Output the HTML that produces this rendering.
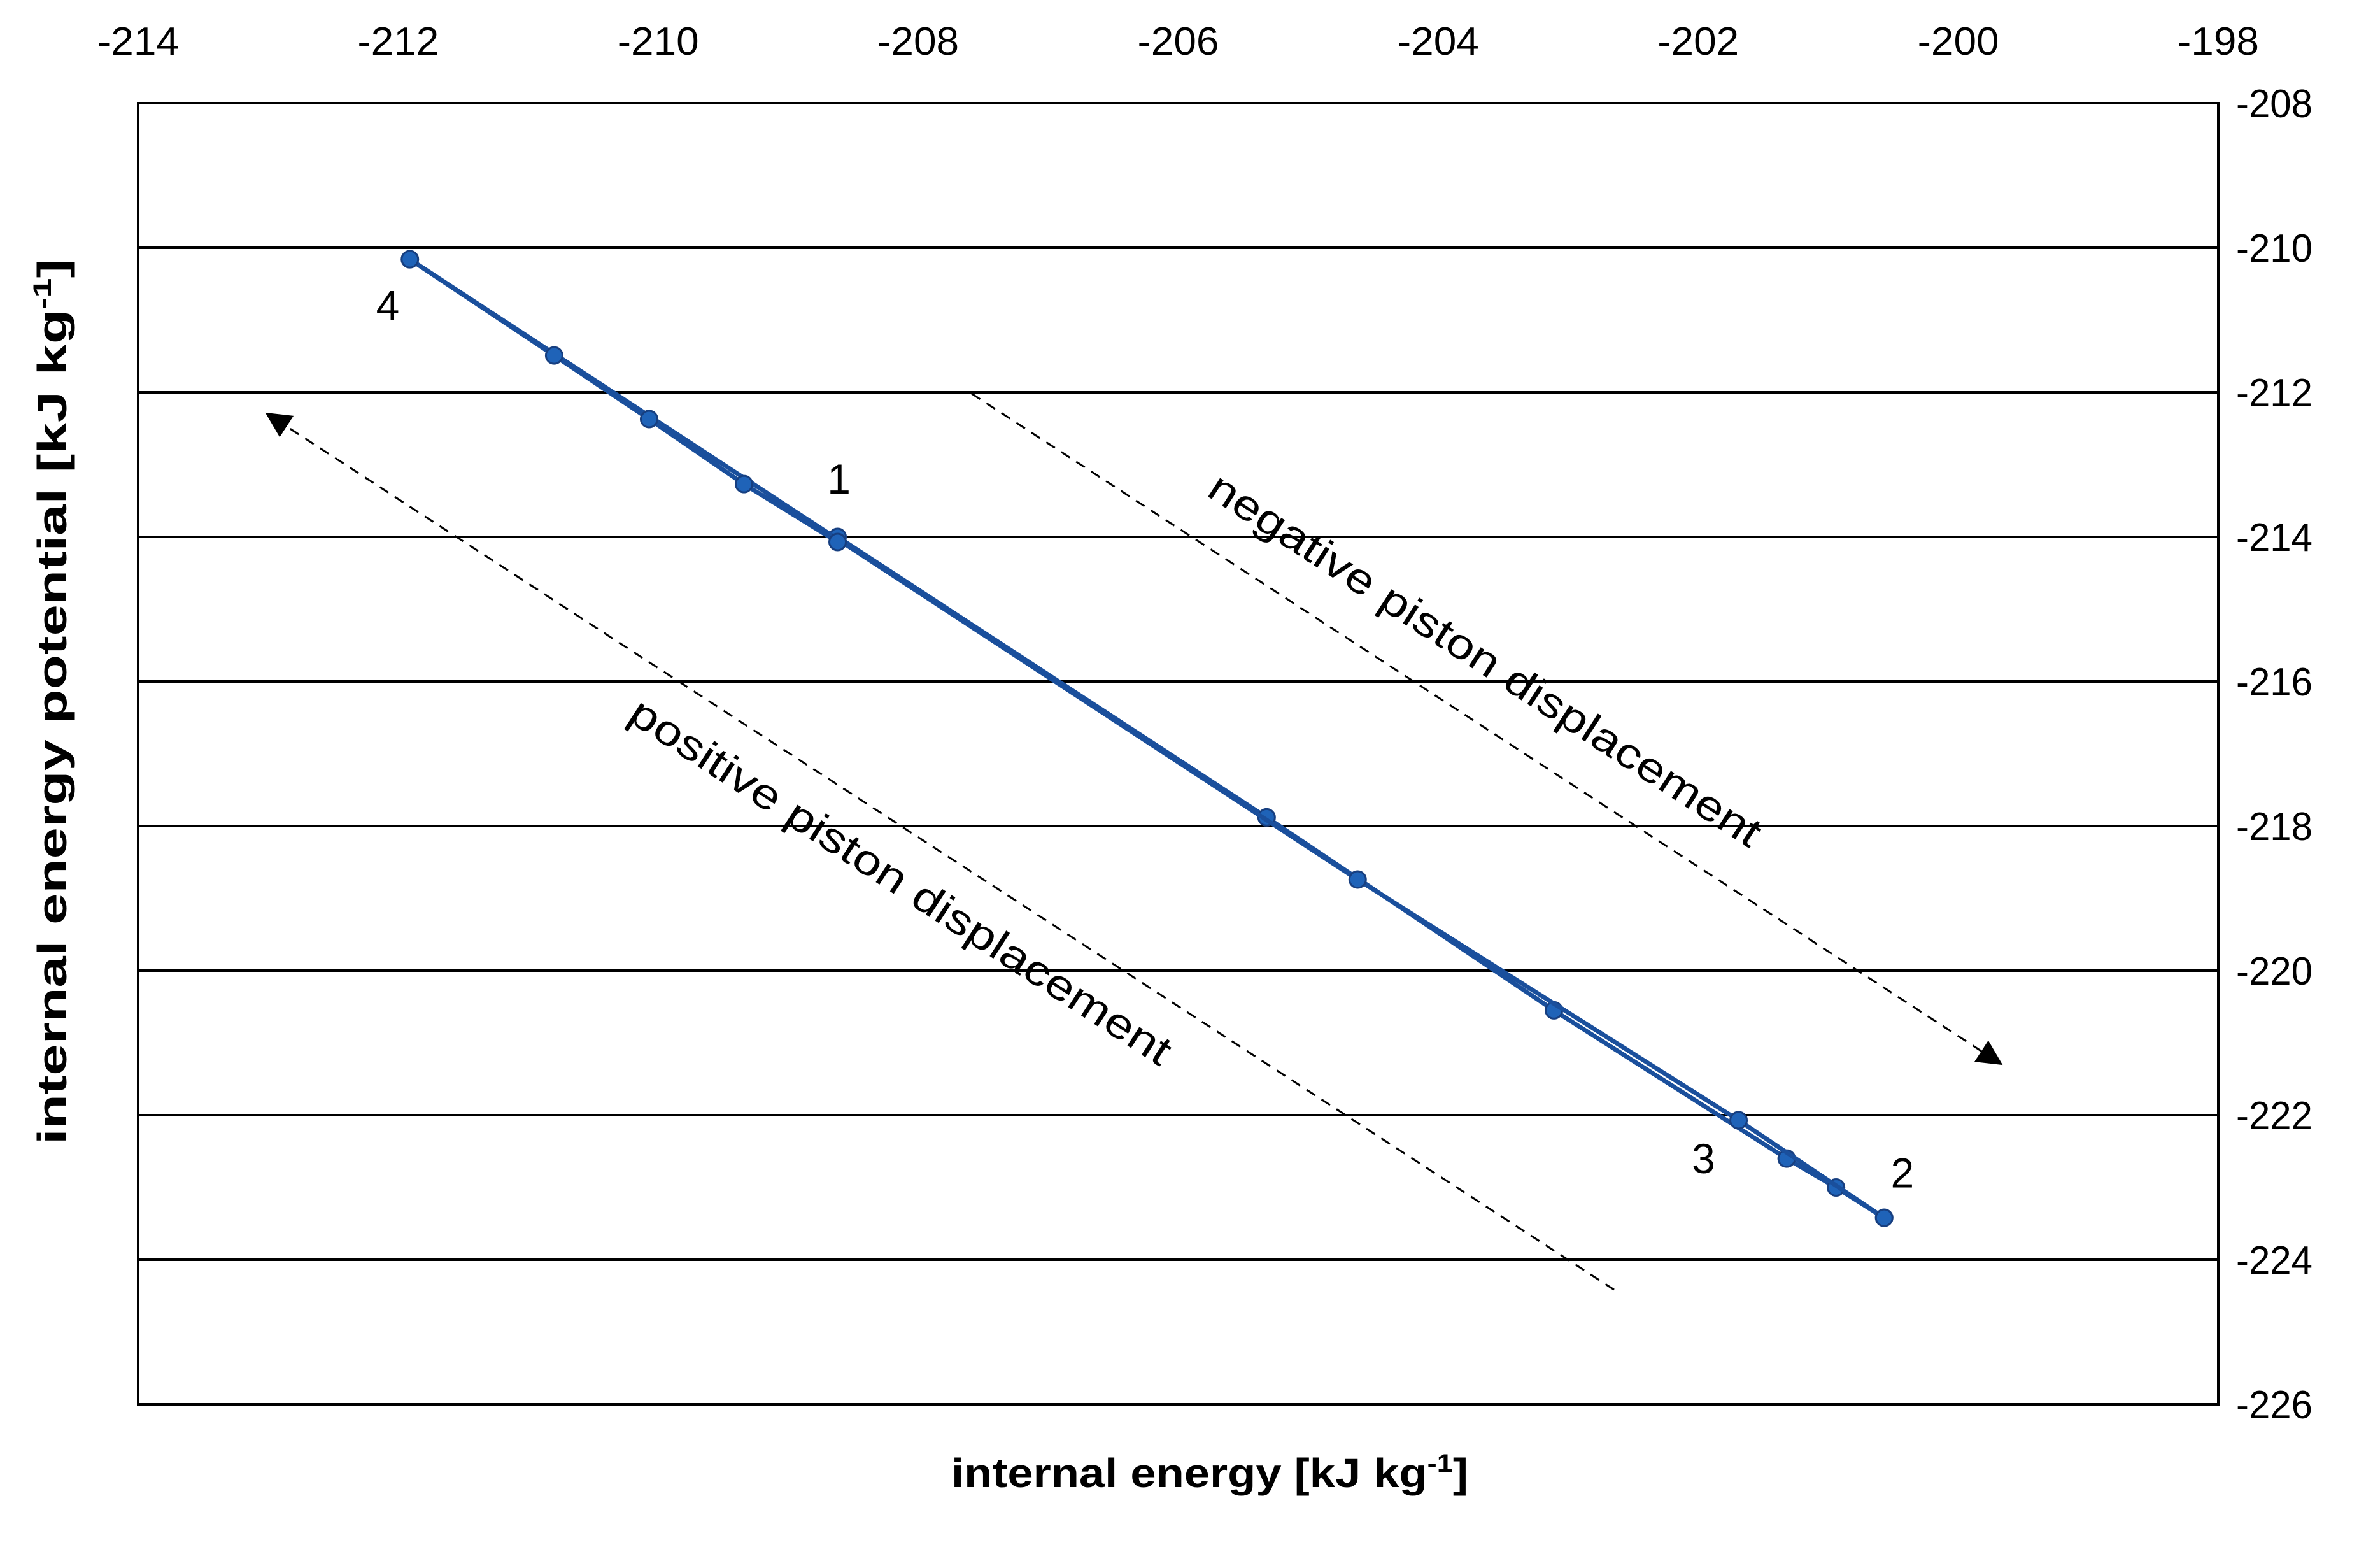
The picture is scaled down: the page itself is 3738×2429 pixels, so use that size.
<!DOCTYPE html>
<html><head><meta charset="utf-8"><style>
html,body{margin:0;padding:0;background:#fff;}
svg{display:block;font-family:"Liberation Sans",sans-serif;}
</style></head><body>
<svg id="chart" width="3738" height="2429" viewBox="0 0 3738 2429" xmlns="http://www.w3.org/2000/svg">
<rect x="0" y="0" width="3738" height="2429" fill="#fff"/>
<g id="grid"></g>
<g id="xticks"></g>
<g id="yticks"></g>
<rect x="217" y="162" width="3267" height="2043" fill="none" stroke="#000" stroke-width="4"/>
<g id="arrows"></g>
<g id="series"></g>
<g id="labels"></g>
<text x="1900" y="2335" text-anchor="middle" font-size="64" font-weight="bold" textLength="812" lengthAdjust="spacingAndGlyphs">internal energy [kJ kg<tspan font-size="40" dy="-24">-1</tspan><tspan dy="24">]</tspan></text>
<text transform="translate(104,1102) rotate(-90)" text-anchor="middle" font-size="64" font-weight="bold" textLength="1390" lengthAdjust="spacingAndGlyphs">internal energy potential [kJ kg<tspan font-size="40" dy="-24">-1</tspan><tspan dy="24">]</tspan></text>
<text transform="translate(2330,1040) rotate(33)" text-anchor="middle" dominant-baseline="middle" font-size="66" textLength="1020" lengthAdjust="spacingAndGlyphs">negative piston displacement</text>
<text transform="translate(1412,1388) rotate(33)" text-anchor="middle" dominant-baseline="middle" font-size="66" textLength="1000" lengthAdjust="spacingAndGlyphs">positive piston displacement</text>
</svg>
<script>
const xTicks = [-214,-212,-210,-208,-206,-204,-202,-200,-198];
const yTicks = [-208,-210,-212,-214,-216,-218,-220,-222,-224,-226];
const forwardX = [-208.62,-205.32,-203.11,-201.32,-200.94,-200.57];
const forwardY = [-214.0,-217.88,-220.55,-222.6,-223.0,-223.42];
const returnX = [-200.57,-201.69,-204.62,-211.91,-210.80,-210.07,-209.34,-208.62];
const returnY = [-223.42,-222.07,-218.74,-210.16,-211.49,-212.37,-213.27,-214.07];
const stateLabels = ['1','2','3','4'];
const stateX = [-208.61,-200.43,-201.96,-212.08];
const stateY = [-213.4,-223.0,-222.8,-211.0];

const L=217,R=3484,T=162,B=2205,xmin=-214,xmax=-198,ymin=-226,ymax=-208;
const sx=v=>L+(v-xmin)/(xmax-xmin)*(R-L);
const sy=v=>B-(v-ymin)/(ymax-ymin)*(B-T);
const NS='http://www.w3.org/2000/svg';
function mk(tag,attrs,parent){const e=document.createElementNS(NS,tag);for(const k in attrs)e.setAttribute(k,attrs[k]);parent.appendChild(e);return e;}
const grid=document.getElementById('grid'),xt=document.getElementById('xticks'),yt=document.getElementById('yticks');
yTicks.forEach(v=>{
  if(v!==ymin&&v!==ymax){const l=mk('line',{x1:L,x2:R,y1:sy(v),y2:sy(v),stroke:'#000','stroke-width':4},grid);
  
  }
  const t=mk('text',{x:3572,y:sy(v)+22,'text-anchor':'middle','font-size':62,textLength:120,lengthAdjust:'spacingAndGlyphs'},yt);t.textContent=v;
  
  
});
xTicks.forEach(v=>{
  const t=mk('text',{x:sx(v),y:86,'text-anchor':'middle','font-size':62,textLength:128,lengthAdjust:'spacingAndGlyphs'},xt);t.textContent=v;
  
  
});
const ar=document.getElementById('arrows');
const defs=mk('defs',{},ar);
const m=mk('marker',{id:'ah',refX:9,refY:5,orient:'auto',markerUnits:'userSpaceOnUse',viewBox:'0 0 10 10'},defs);
m.setAttribute('markerWidth',40);m.setAttribute('markerHeight',40);
mk('path',{d:'M0,0 L10,5 L0,10 z',fill:'#000'},m);
const a1=mk('line',{x1:2535,y1:2025,x2:420,y2:650,stroke:'#000','stroke-width':3,'stroke-dasharray':'16,12','marker-end':'url(#ah)'},ar);


const a2=mk('line',{x1:1526,y1:618,x2:3142,y2:1670,stroke:'#000','stroke-width':3,'stroke-dasharray':'16,12','marker-end':'url(#ah)'},ar);


const sg=document.getElementById('series');
function drawSeries(xs,ys,name){
  const p=mk('polyline',{points:xs.map((x,i)=>sx(x)+','+sy(ys[i])).join(' '),fill:'none',stroke:'#1a4f9c','stroke-width':7,'stroke-linejoin':'round'},sg);
  
  
  xs.forEach((x,i)=>{const c=mk('circle',{cx:sx(x),cy:sy(ys[i]),r:13,fill:'#1f63b8',stroke:'#173f80','stroke-width':3},sg);
    
    });
}
drawSeries(forwardX,forwardY,'forward-path');
drawSeries(returnX,returnY,'return-path');
const lg=document.getElementById('labels');
stateLabels.forEach((s,i)=>{const t=mk('text',{x:sx(stateX[i]),y:sy(stateY[i]),'text-anchor':'middle','font-size':66},lg);t.textContent=s;
  
  });
</script>
</body></html>
